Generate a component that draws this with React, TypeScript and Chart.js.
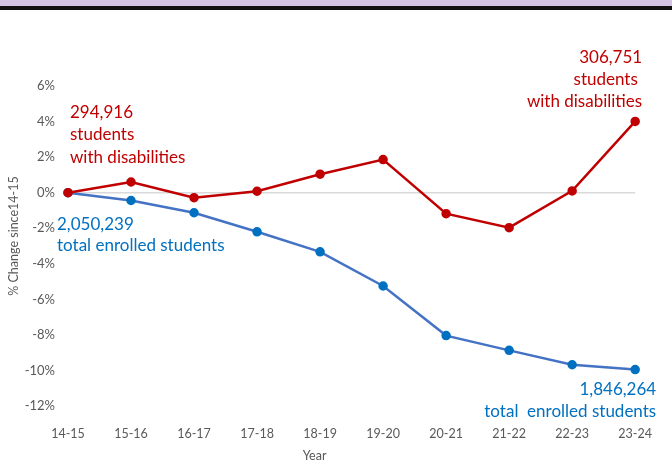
import React, { useEffect, useRef } from "react";
import { Chart, registerables } from "chart.js";

Chart.register(...registerables);

const years = ["14-15", "15-16", "16-17", "17-18", "18-19", "19-20", "20-21", "21-22", "22-23", "23-24"];
const disabilitiesPct = [0, 0.6, -0.28, 0.08, 1.04, 1.86, -1.18, -1.97, 0.1, 4.01];
const enrolledPct = [0, -0.44, -1.13, -2.2, -3.33, -5.25, -8.04, -8.87, -9.68, -9.95];
const yTickMin = -12;
const yTickMax = 6;
const yTickStep = 2;
const redLabelStart = ["294,916", "students", "with disabilities"];
const redLabelEnd = ["306,751", "students ", "with disabilities"];
const blueLabelStart = ["2,050,239", "total enrolled students"];
const blueLabelEnd = ["1,846,264", "total  enrolled students"];
const yAxisTitle = "% Change since14-15";
const xAxisTitle = "Year";

const RED = "#c00000";
const BLUE_LINE = "#4472c4";
const BLUE = "#0070c0";
const GRAY = "#595959";
const FONT = "Lato, 'Open Sans', sans-serif";

const overlay = {
  id: "overlay",
  beforeDraw(chart: any) {
    const { ctx, width } = chart;
    ctx.save();
    ctx.fillStyle = "#ffffff";
    ctx.fillRect(0, 0, width, chart.height);
    ctx.fillStyle = "#d5c3e3";
    ctx.fillRect(0, 0, width, 6);
    ctx.fillStyle = "#111111";
    ctx.fillRect(0, 6, width, 4);
    ctx.restore();
  },
  afterDraw(chart: any) {
    const { ctx } = chart;
    const xs = chart.scales.x;
    const ys = chart.scales.y;
    ctx.save();
    ctx.font = `17px ${FONT}`;
    ctx.textBaseline = "middle";

    // red start
    ctx.fillStyle = RED;
    ctx.textAlign = "left";
    let ax = xs.getPixelForValue(0);
    let ay = ys.getPixelForValue(disabilitiesPct[0]);
    [-80, -58, -35].forEach((dy, i) => ctx.fillText(redLabelStart[i], ax + 2, ay + dy));

    // red end
    ctx.textAlign = "right";
    ax = xs.getPixelForValue(9);
    ay = ys.getPixelForValue(disabilitiesPct[9]);
    [-64, -42, -20].forEach((dy, i) => ctx.fillText(redLabelEnd[i], ax + 7, ay + dy));

    // blue start
    ctx.fillStyle = BLUE;
    ctx.textAlign = "left";
    ax = xs.getPixelForValue(0);
    ay = ys.getPixelForValue(enrolledPct[0]);
    [32, 53].forEach((dy, i) => ctx.fillText(blueLabelStart[i], ax - 11, ay + dy));

    // blue end
    ctx.textAlign = "right";
    ax = xs.getPixelForValue(9);
    ay = ys.getPixelForValue(enrolledPct[9]);
    [20, 42].forEach((dy, i) => ctx.fillText(blueLabelEnd[i], ax + 21, ay + dy));

    // axis titles
    ctx.fillStyle = GRAY;
    ctx.font = `12.5px ${FONT}`;
    ctx.textAlign = "center";
    ctx.fillText(xAxisTitle, (chart.chartArea.left + chart.chartArea.right) / 2 - 37, 456);
    ctx.translate(14, 236);
    ctx.rotate(-Math.PI / 2);
    ctx.fillText(yAxisTitle, 0, 0);
    ctx.restore();
  },
};

export default function App() {
  const ref = useRef<HTMLCanvasElement | null>(null);
  useEffect(() => {
    if (!ref.current) return;
    const chart = new Chart(ref.current, {
      type: "line",
      data: {
        labels: years,
        datasets: [
          {
            label: "Students with disabilities",
            data: disabilitiesPct,
            borderColor: RED,
            backgroundColor: RED,
            pointBackgroundColor: RED,
            pointBorderColor: RED,
            borderWidth: 2.5,
            pointRadius: 3.5,
            tension: 0,
          },
          {
            label: "Total enrolled students",
            data: enrolledPct,
            borderColor: BLUE_LINE,
            backgroundColor: BLUE,
            pointBackgroundColor: BLUE,
            pointBorderColor: BLUE,
            borderWidth: 2.5,
            pointRadius: 3.5,
            tension: 0,
          },
        ],
      },
      options: {
        responsive: false,
        animation: false,
        layout: { padding: { left: 0, right: 36, top: 86, bottom: 0 } },
        plugins: { legend: { display: false }, tooltip: { enabled: false } },
        scales: {
          x: {
            offset: false,
            grid: { display: false, drawTicks: false },
            border: { display: false },
            ticks: { color: GRAY, font: { family: FONT, size: 12.5 }, padding: 20, maxRotation: 0, autoSkip: false },
            afterFit: (s: any) => {
              s.height = 62;
            },
          },
          y: {
            min: yTickMin,
            max: yTickMax,
            grid: {
              drawTicks: false,
              color: (c: any) => (c.tick && c.tick.value === 0 ? "#d9d9d9" : "rgba(0,0,0,0)"),
              lineWidth: 1.5,
            },
            border: { display: false },
            ticks: {
              stepSize: yTickStep,
              color: GRAY,
              font: { family: FONT, size: 13 },
              padding: 13,
              callback: (v: any) => `${v}%`,
            },
            afterFit: (s: any) => {
              s.width = 68;
            },
          },
        },
      },
      plugins: [overlay],
    });
    return () => chart.destroy();
  }, []);
  return (
    <div style={{ position: "absolute", left: 0, top: 0, width: 672, height: 468, background: "#fff" }}>
      <canvas ref={ref} width={672} height={468} style={{ display: "block" }} />
    </div>
  );
}
